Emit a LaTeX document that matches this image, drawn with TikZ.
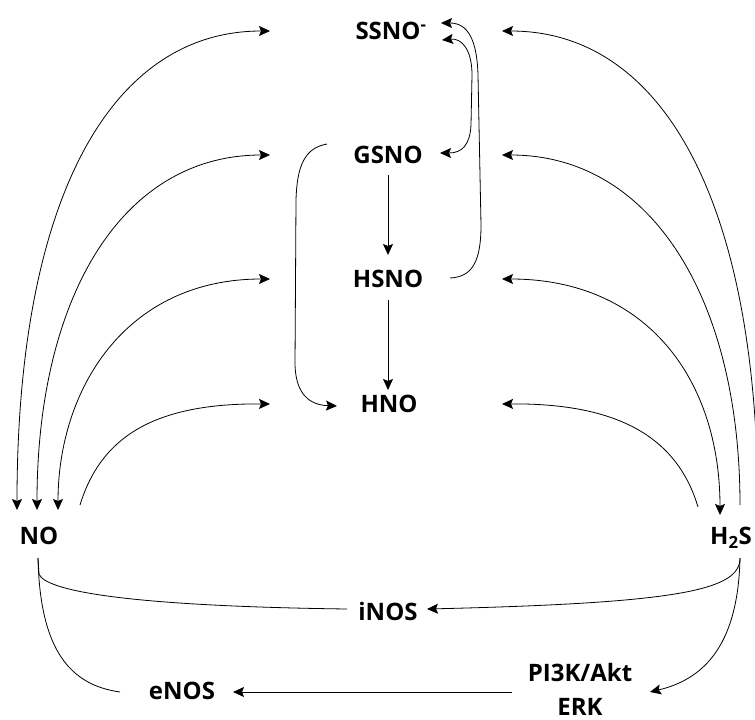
\documentclass[tikz,border=0pt]{standalone}
\usepackage{fontspec}
\setmainfont{Open Sans}
\usetikzlibrary{arrows.meta,calc}
\begin{document}
\begin{tikzpicture}[x=1pt,y=-1pt,
  >={Stealth[length=11pt,width=10pt,inset=2pt]},
  lbl/.style={font=\fontsize{24}{34}\selectfont\bfseries, inner sep=0pt, text height=17pt, text depth=0pt},
  twoline/.style={font=\fontsize{24}{34}\selectfont\bfseries, inner sep=0pt, align=center},
  line/.style={line width=0.8pt},
  conn/.style={line, ->},
  bidir/.style={line, <->}]
\useasboundingbox (0,0) rectangle (755,720);

% nodes
\node[lbl] (SSNO) at (391,31) {SSNO\textsuperscript{-}};
\node[lbl] (GSNO) at (388,155) {GSNO};
\node[lbl] (HSNO) at (388,279) {HSNO};
\node[lbl] (HNO)  at (389,404) {HNO};
\node[lbl] (NO)   at (39,536) {NO};
\node[lbl, anchor=west] (H2S) at (710,536) {H\textsubscript{2}S};
\node[lbl] (iNOS) at (388,612) {iNOS};
\node[lbl] (eNOS) at (182,691) {eNOS};
\node[twoline] (PI3K) at (580,689) {PI3K/Akt\\ERK};

% NO <-> middle column
\draw[bidir] ($(NO)+(-22,-26)$) .. controls (17,200) and (110,31) .. ($(SSNO)+(-121,0)$);
\draw[bidir] ($(NO)+(-2,-26)$) .. controls (37,300) and (120,155) .. ($(GSNO)+(-118,0)$);
\draw[bidir] ($(NO)+(19,-26)$) .. controls (58,390) and (125,279) .. ($(HSNO)+(-118,0)$);
\draw[conn]  ($(NO)+(41,-31)$) .. controls (100,440) and (150,403) .. ($(HNO)+(-119,0)$);

% H2S -> middle column
\draw[conn]  ($(H2S.west)+(48,-26)$) .. controls (758,200) and (662,31) .. ($(SSNO)+(111,0)$);
\draw[conn]  ($(H2S.west)+(30,-31)$) .. controls (740,300) and (652,155) .. ($(GSNO)+(114,0)$);
\draw[bidir] ($(H2S.west)+(10,-21)$) .. controls (720,380) and (647,279) .. ($(HSNO)+(114,0)$);
\draw[conn]  ($(H2S.west)+(-12,-29)$) .. controls (678,440) and (622,403) .. ($(HNO)+(113,0)$);

% middle column
\draw[conn] ($(GSNO)+(0,20)$) -- ($(HSNO)+(0,-24)$);
\draw[conn] ($(HSNO)+(0,21)$) -- ($(HNO)+(-1,-14)$);
\draw[conn] ($(GSNO)+(-61,-11)$) .. controls (305,148) and (297,165) .. (296,200)
   -- (295,365) .. controls (296,395) and (310,405) .. ($(HNO)+(-52,2)$);
\draw[conn] ($(HSNO)+(62,-1)$) .. controls (472,277) and (481,262) .. (481,225)
   -- (478,75) .. controls (477,40) and (468,23) .. ($(SSNO)+(50,-8)$);
\draw[bidir] ($(SSNO)+(51,9)$) .. controls (462,38) and (472,50) .. (472,75)
   -- (471,125) .. controls (470,145) and (462,153) .. ($(GSNO)+(52,-2)$);

% bottom
\draw[line] ($(NO)+(-1,22)$) -- (39,574) .. controls (45,590) and (120,606) .. ($(iNOS)+(-41,-3)$);
\draw[line] ($(NO)+(-1,22)$) .. controls (40,650) and (70,685) .. ($(eNOS)+(-62,1)$);
\draw[conn] ($(H2S.west)+(30,22)$) .. controls (740,590) and (680,603) .. ($(iNOS)+(39,-3)$);
\draw[conn] ($(H2S.west)+(30,22)$) .. controls (738,650) and (700,680) .. ($(PI3K)+(70,3)$);
\draw[conn] ($(PI3K)+(-68,3)$) -- ($(eNOS)+(51,1)$);
\end{tikzpicture}
\end{document}
